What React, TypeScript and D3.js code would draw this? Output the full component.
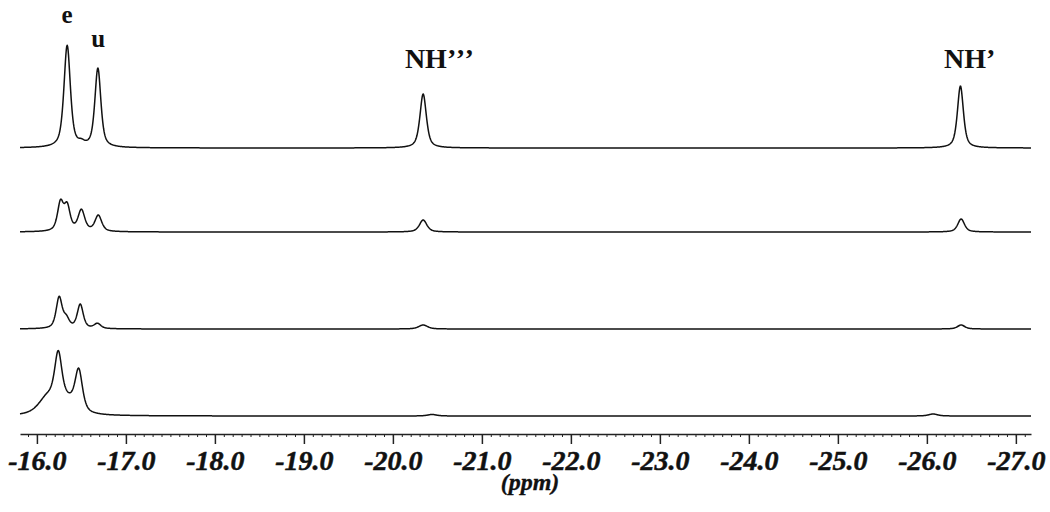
import { useEffect, useRef } from 'react'
import * as d3 from 'd3'

// Chemical shift range (ppm) shown on the x axis, left to right
const PPM_LEFT = -15.81
const PPM_RIGHT = -27.17
const MAJOR_TICKS = [-16, -17, -18, -19, -20, -21, -22, -23, -24, -25, -26, -27]

// Peak tables: [shift ppm, height, half width ppm]
// traces from top to bottom
const TRACE_1 = [
  [-16.34, 102, 0.043],
  [-16.5, 3, 0.04],
  [-16.685, 79, 0.04],
  [-20.34, 54, 0.043],
  [-26.377, 62, 0.04],
]
const TRACE_2 = [
  [-16.265, 28, 0.04],
  [-16.34, 24, 0.04],
  [-16.5, 21, 0.045],
  [-16.69, 16, 0.045],
  [-20.34, 12, 0.05],
  [-26.385, 13, 0.045],
]
const TRACE_3 = [
  [-16.25, 31, 0.04],
  [-16.33, 9, 0.04],
  [-16.487, 24, 0.04],
  [-16.68, 5, 0.045],
  [-20.34, 4, 0.06],
  [-26.385, 4, 0.05],
]
const TRACE_4 = [
  [-16.12, 17, 0.12],
  [-16.24, 51, 0.05],
  [-16.35, 11, 0.1],
  [-16.47, 41, 0.05],
  [-20.44, 1.5, 0.06],
  [-26.07, 2, 0.06],
]
const TRACES = [TRACE_1, TRACE_2, TRACE_3, TRACE_4]

const PEAK_LABELS = [
  { main: 'e', marks: '', ppm: -16.34, row: 0 },
  { main: 'u', marks: '', ppm: -16.69, row: 1 },
  { main: 'NH', marks: '’’’', ppm: -20.53, row: 2 },
  { main: 'NH', marks: '’', ppm: -26.49, row: 2 },
]

const FONT = '"Liberation Serif", "Times New Roman", serif'
const ETA = 0.62 // lorentz / gauss mix of the line shape

// pseudo-Voigt line shape summed over the peak table
function intensity(peaks: number[][], x: number) {
  let s = 0
  for (const [c, h, w] of peaks) {
    const r = (x - c) / w
    s += h * (ETA / (1 + r * r) + (1 - ETA) * Math.exp(-Math.LN2 * r * r))
  }
  return s
}

export default function App() {
  const svgRef = useRef<SVGSVGElement>(null)

  useEffect(() => {
    const svg = d3.select(svgRef.current)
    svg.selectAll('*').remove()

    const width = 1050
    const height = 512
    const axisY = 434
    const baselines = [148, 232, 329, 416]

    const x = d3.scaleLinear().domain([PPM_LEFT, PPM_RIGHT]).range([20, 1031])
    const h = d3.scaleLinear().domain([0, 100]).range([0, 100])

    const grid = d3.range(0, 2280).map(i => PPM_LEFT - i * 0.005).filter(p => p >= PPM_RIGHT)

    // Spectra
    TRACES.forEach((peaks, i) => {
      const line = d3.line<number>()
        .x(p => x(p))
        .y(p => baselines[i] - h(intensity(peaks, p)))
      svg.append('path')
        .attr('d', line(grid) ?? '')
        .attr('fill', 'none')
        .attr('stroke', '#111')
        .attr('stroke-width', 1.5)
        .attr('stroke-linejoin', 'round')
    })

    // Peak labels
    const labelY = [23, 47, 68]
    PEAK_LABELS.forEach(l => {
      const t = svg.append('text')
        .attr('x', x(l.ppm))
        .attr('y', labelY[l.row])
        .attr('text-anchor', 'middle')
        .attr('font-family', FONT)
        .attr('font-weight', 'bold')
        .attr('font-size', l.row < 2 ? '25px' : '28px')
        .attr('fill', '#111')
      t.append('tspan').text(l.main)
      if (l.marks) t.append('tspan').attr('letter-spacing', '1.5px').text(l.marks)
    })

    // Minor ticks every 0.1 ppm
    const minor = d3.range(-158, -272, -1).map(v => v / 10).filter(v => v <= PPM_LEFT && v >= PPM_RIGHT)
    svg.append('g')
      .attr('transform', `translate(0,${axisY})`)
      .call(d3.axisBottom(x).tickValues(minor).tickSize(3).tickSizeOuter(0).tickFormat(() => ''))
      .call(ax => {
        ax.select('.domain').attr('stroke', '#222').attr('stroke-width', 1.5)
        ax.selectAll('.tick line').attr('stroke', '#222').attr('stroke-width', 1)
      })

    // Major ticks + labels
    svg.append('g')
      .attr('transform', `translate(0,${axisY})`)
      .call(d3.axisBottom(x).tickValues(MAJOR_TICKS).tickSize(10).tickSizeOuter(0).tickFormat(d => (d as number).toFixed(1)))
      .call(ax => {
        ax.select('.domain').remove()
        ax.selectAll('.tick line').attr('stroke', '#222').attr('stroke-width', 1.5)
        ax.selectAll('text')
          .attr('y', 36)
          .attr('dy', null)
          .attr('fill', '#111')
          .attr('stroke', '#111')
          .attr('stroke-width', 0.5)
          .attr('font-family', FONT)
          .attr('font-weight', 'bold')
          .attr('font-style', 'italic')
          .attr('font-size', '28px')
      })

    svg.append('text')
      .attr('x', 530)
      .attr('y', 490)
      .attr('text-anchor', 'middle')
      .attr('font-family', FONT)
      .attr('font-weight', 'bold')
      .attr('font-style', 'italic')
      .attr('font-size', '24px')
      .attr('fill', '#111')
      .attr('stroke', '#111')
      .attr('stroke-width', 0.3)
      .text('(ppm)')

    svg.attr('width', width).attr('height', height)
  }, [])

  return (
    <svg
      ref={svgRef}
      width={1050}
      height={512}
      style={{ position: 'absolute', left: 0, top: 0, background: '#fff', display: 'block' }}
    />
  )
}
